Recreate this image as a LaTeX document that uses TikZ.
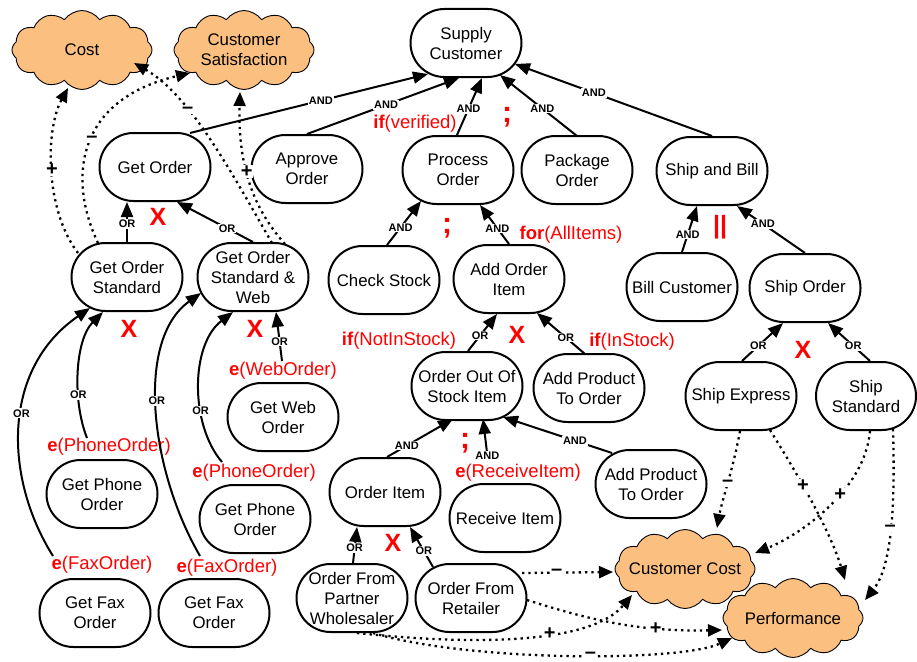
\documentclass[tikz,border=0pt]{standalone}
\usepackage{fontspec}
\setmainfont{Liberation Sans}
\usetikzlibrary{arrows.meta,shapes.symbols}
\definecolor{goalfill}{RGB}{251,191,128}
\definecolor{condred}{RGB}{255,0,0}

\begin{document}
\begin{tikzpicture}[x=1pt,y=-1pt,
  task/.style={draw,line width=2pt,rounded corners=34pt,minimum width=111pt,
    minimum height=68pt,align=center,inner sep=0pt,
    font=\fontsize{16.8}{20}\selectfont},
  softgoal/.style={cloud,cloud puffs=12,cloud puff arc=110,draw,line width=0.9pt,
    fill=goalfill,minimum width=140pt,minimum height=79pt,inner sep=0pt},
  goaltext/.style={align=center,inner sep=0pt,font=\fontsize{16.8}{20}\selectfont},
  link/.style={line width=2pt,-{Triangle[length=15pt,width=12pt]}},
  contrib/.style={line width=2.3pt,dash pattern=on 2.3pt off 4pt,
    -{Triangle[length=14pt,width=12pt]}},
  dec/.style={font=\bfseries\fontsize{11}{12}\selectfont,fill=white,inner sep=1pt},
  cond/.style={text=condred,font=\fontsize{18.5}{22}\selectfont,inner sep=1pt},
  opmark/.style={text=condred,font=\bfseries\fontsize{25}{30}\selectfont,inner sep=0pt},
  semi/.style={text=condred,font=\bfseries\fontsize{30}{34}\selectfont,inner sep=0pt},
  sign/.style={font=\bfseries\fontsize{20}{24}\selectfont,fill=white,inner sep=0.5pt}]

\useasboundingbox (0,0) rectangle (917,661);

% ---------- soft goals ----------
\node[softgoal] (cost) at (82,50) {};
\node[goaltext] at (cost) {Cost};
\node[softgoal] (csat) at (244,50) {};
\node[goaltext] at (csat) {Customer\\Satisfaction};
\node[softgoal] (ccost) at (685,569) {};
\node[goaltext] at (ccost) {Customer Cost};
\node[softgoal] (perf) at (793,618) {};
\node[goaltext] at (perf) {Performance};

% ---------- tasks ----------
\node[task] (sc) at (466,43) {Supply\\Customer};
\node[task] (go) at (155,167) {Get Order};
\node[task] (ao) at (307,169) {Approve\\Order};
\node[task] (po) at (458,170) {Process\\Order};
\node[task] (pk) at (577,170) {Package\\Order};
\node[task] (sb) at (712,171) {Ship and Bill};
\node[task] (gos) at (127,277) {Get Order\\Standard};
\node[task] (gosw) at (253,277) {Get Order\\Standard \&\\Web};
\node[task] (cs) at (384,280) {Check Stock};
\node[task] (aoi) at (509,279) {Add Order\\Item};
\node[task] (bc) at (682,287) {Bill Customer};
\node[task] (so) at (805,288) {Ship Order};
\node[task] (oos) at (467,386) {Order Out Of\\Stock Item};
\node[task] (apt1) at (589,388) {Add Product\\To Order};
\node[task] (se) at (741,396) {Ship Express};
\node[task,minimum width=100pt] (ss) at (866,396) {Ship\\Standard};
\node[task] (gwo) at (283,417) {Get Web\\Order};
\node[task] (gpo1) at (102,494) {Get Phone\\Order};
\node[task] (gpo2) at (255,519) {Get Phone\\Order};
\node[task] (gfo1) at (95,613) {Get Fax\\Order};
\node[task] (gfo2) at (214,613) {Get Fax\\Order};
\node[task] (oi) at (385,492) {Order Item};
\node[task] (ri) at (505,518) {Receive Item};
\node[task] (apt2) at (651,484) {Add Product\\To Order};
\node[task] (ofpw) at (352,598) {Order From\\Partner\\Wholesaler};
\node[task] (ofr) at (471,598) {Order From\\Retailer};

% ---------- event and condition annotations ----------
\node[cond] (eweb) at (283,371) {\textbf{e}(WebOrder)};
\node[cond] (ephone1) at (109,447) {\textbf{e}(PhoneOrder)};
\node[cond] (ephone2) at (254,473) {\textbf{e}(PhoneOrder)};
\node[cond] (efax1) at (102,565) {\textbf{e}(FaxOrder)};
\node[cond] (efax2) at (227,568) {\textbf{e}(FaxOrder)};
\node[cond] (erecv) at (518,473) {\textbf{e}(ReceiveItem)};
\node[cond] (cverified) at (415,124) {\textbf{if}(verified)};
\node[cond] (callitems) at (571,235) {\textbf{for}(AllItems)};
\node[cond] (cnostock) at (399,341) {\textbf{if}(NotInStock)};
\node[cond] (cinstock) at (632,342) {\textbf{if}(InStock)};

\node[semi] (seq1) at (507,117) {;};
\node[semi] (seq2) at (447,228) {;};
\node[semi] (seq3) at (465,443) {;};
\node[opmark] (alt1) at (158,217) {X};
\node[opmark] (alt2) at (129,329) {X};
\node[opmark] (alt3) at (255,329) {X};
\node[opmark] (alt4) at (517,335) {X};
\node[opmark] (alt5) at (393,543) {X};
\node[opmark] (alt6) at (803,350) {X};
\node[opmark] (par1) at (720,227) {||};

% ---------- AND decompositions ----------
\draw[link] ([shift={(35,-34)}]go.center) -- node[dec,pos=0.55]{AND} ([shift={(-38,31)}]sc.center);
\draw[link] ([shift={(0,-35)}]ao.center) -- node[dec,pos=0.52]{AND} ([shift={(-7,35)}]sc.center);
\draw[link] ([shift={(-1,-35)}]po.center) -- node[dec,pos=0.46]{AND} ([shift={(16,35)}]sc.center);
\draw[link] ([shift={(0,-34)}]pk.center) -- node[dec,pos=0.45]{AND} ([shift={(34,32)}]sc.center);
\draw[link] ([shift={(0,-35)}]sb.center) -- node[dec,pos=0.6]{AND} ([shift={(49,21)}]sc.center);

\draw[link] ([shift={(3,-35)}]cs.center) -- node[dec,pos=0.4]{AND} ([shift={(-37,31)}]po.center);
\draw[link] ([shift={(0,-35)}]aoi.center) -- node[dec,pos=0.4]{AND} ([shift={(22,35)}]po.center);

\draw[link] ([shift={(0,-35)}]bc.center) -- node[dec,pos=0.38]{AND} ([shift={(-15,35)}]sb.center);
\draw[link] ([shift={(0,-35)}]so.center) -- node[dec,pos=0.62]{AND} ([shift={(25,35)}]sb.center);

\draw[link] ([shift={(2,-35)}]oi.center) -- node[dec,pos=0.3]{AND} ([shift={(-14,33)}]oos.center);
\draw[link] ([shift={(-30,-12)}]erecv.center) -- node[dec,pos=0.12]{AND} ([shift={(16,33)}]oos.center);
\draw[link] ([shift={(-39,-31)}]apt2.center) -- node[dec,pos=0.34]{AND} ([shift={(36,31)}]oos.center);

% ---------- OR decompositions ----------
\draw[link] ([shift={(0,-35)}]gos.center) -- node[dec,pos=0.45]{OR} ([shift={(-28,35)}]go.center);
\draw[link] ([shift={(0,-35)}]gosw.center) -- node[dec,pos=0.34]{OR} ([shift={(22,35)}]go.center);

\draw[link] ([shift={(-49,-9)}]efax1.center) .. controls (5,480) and (0,370) .. node[dec,pos=0.55]{OR} ([shift={(-37,31)}]gos.center);
\draw[link] ([shift={(-22,-9)}]ephone1.center) .. controls (72,400) and (75,340) .. node[dec,pos=0.33]{OR} ([shift={(-24,35)}]gos.center);
\draw[link] ([shift={(-27,-12)}]efax2.center) .. controls (150,470) and (135,340) .. node[dec,pos=0.53]{OR} ([shift={(-52,16)}]gosw.center);
\draw[link] ([shift={(-32,-11)}]ephone2.center) .. controls (190,425) and (190,345) .. node[dec,pos=0.35]{OR} ([shift={(-20,35)}]gosw.center);
\draw[link] ([shift={(-1,-10)}]eweb.center) -- node[dec,pos=0.4]{OR} ([shift={(23,35)}]gosw.center);

\draw[link] ([shift={(1,-35)}]oos.center) -- node[dec,pos=0.42]{OR} ([shift={(-12,35)}]aoi.center);
\draw[link] ([shift={(-4,-34)}]apt1.center) -- node[dec,pos=0.4]{OR} ([shift={(28,34)}]aoi.center);

\draw[link] ([shift={(1,-35)}]se.center) -- node[dec,pos=0.4]{OR} ([shift={(-22,35)}]so.center);
\draw[link] ([shift={(4,-35)}]ss.center) -- node[dec,pos=0.4]{OR} ([shift={(23,35)}]so.center);

\draw[link] ([shift={(1,-35)}]ofpw.center) -- node[dec,pos=0.42]{OR} ([shift={(-28,35)}]oi.center);
\draw[link] ([shift={(-38,-31)}]ofr.center) -- node[dec,pos=0.4]{OR} ([shift={(25,35)}]oi.center);

% ---------- contributions to soft goals ----------
\draw[contrib] ([shift={(-49,-24)}]gos.center) .. controls (45,210) and (45,130) .. node[sign,pos=0.5]{+} ([shift={(-14,38)}]cost.center);
\draw[contrib] ([shift={(-29,-34)}]gos.center) .. controls (68,180) and (75,100) .. node[sign,pos=0.53]{--} ([shift={(-54,23)}]csat.center);
\draw[contrib] ([shift={(19,-34)}]gosw.center) .. controls (230,170) and (190,95) .. node[sign,pos=0.65]{--} ([shift={(52,13)}]cost.center);
\draw[contrib] ([shift={(32,-33)}]gosw.center) .. controls (250,205) and (238,160) .. node[sign,pos=0.55]{+} ([shift={(-4,42)}]csat.center);

\draw[contrib] ([shift={(-1,35)}]se.center) .. controls (733,470) and (722,500) .. node[sign,pos=0.5]{--} ([shift={(32,-41)}]ccost.center);
\draw[contrib] ([shift={(29,34)}]se.center) .. controls (795,470) and (830,530) .. node[sign,pos=0.4]{+} ([shift={(52,-38)}]perf.center);
\draw[contrib] ([shift={(4,35)}]ss.center) .. controls (865,490) and (800,535) .. node[sign,pos=0.4]{+} ([shift={(70,-16)}]ccost.center);
\draw[contrib] ([shift={(27,33)}]ss.center) .. controls (895,500) and (893,565) .. node[sign,pos=0.5]{--} ([shift={(72,-18)}]perf.center);

\draw[contrib] ([shift={(51,-25)}]ofr.center) -- node[sign,pos=0.38]{--} ([shift={(-72,3)}]ccost.center);
\draw[contrib] ([shift={(56,2)}]ofr.center) .. controls (590,620) and (640,632) .. node[sign,pos=0.7]{+} ([shift={(-71,12)}]perf.center);
\draw[contrib] ([shift={(5,35)}]ofpw.center) .. controls (470,645) and (590,645) .. node[sign,pos=0.6]{+} ([shift={(-53,26)}]ccost.center);
\draw[contrib] ([shift={(21,35)}]ofpw.center) .. controls (470,662) and (680,662) .. node[sign,pos=0.55]{--} ([shift={(-61,20)}]perf.center);

\end{tikzpicture}
\end{document}
